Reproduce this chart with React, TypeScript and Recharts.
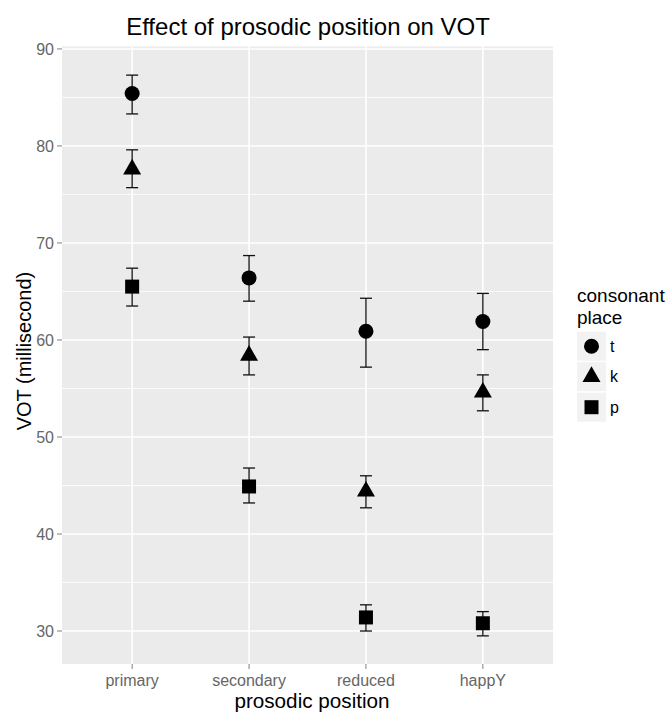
import React from 'react'
import {
  ComposedChart,
  Scatter,
  XAxis,
  YAxis,
  CartesianGrid,
  ErrorBar,
} from 'recharts'

const categories = ['primary', 'secondary', 'reduced', 'happY']

// mean VOT and error-bar limits
const tMean = [85.4, 66.4, 60.9, 61.9]
const tLow = [83.3, 64.0, 57.2, 59.0]
const tHigh = [87.3, 68.7, 64.3, 64.8]

const kMean = [77.6, 58.4, 44.4, 54.6]
const kLow = [75.7, 56.4, 42.7, 52.7]
const kHigh = [79.6, 60.3, 46.0, 56.4]

const pMean = [65.5, 44.9, 31.4, 30.8]
const pLow = [63.5, 43.2, 30.0, 29.5]
const pHigh = [67.4, 46.8, 32.7, 32.0]

const majorTicks = [30, 40, 50, 60, 70, 80, 90]
const minorTicks = [35, 45, 55, 65, 75, 85]

const FONT = '"Liberation Sans", Arial, sans-serif'

const toRows = (mean: number[], low: number[], high: number[]) =>
  mean.map((m, i) => ({ x: i + 1, y: m, err: [m - low[i], high[i] - m] }))

const Circle = (props: any) => <circle cx={props.cx} cy={props.cy} r={7.5} fill="#000" />
const Triangle = (props: any) => {
  const { cx, cy } = props
  const s = 18
  const h = s * 0.866
  return (
    <polygon
      points={`${cx},${cy - (2 * h) / 3} ${cx - s / 2},${cy + h / 3} ${cx + s / 2},${cy + h / 3}`}
      fill="#000"
    />
  )
}
const Square = (props: any) => (
  <rect x={props.cx - 7} y={props.cy - 7} width={14} height={14} fill="#000" />
)

const series = [
  { name: 't', data: toRows(tMean, tLow, tHigh), shape: Circle },
  { name: 'k', data: toRows(kMean, kLow, kHigh), shape: Triangle },
  { name: 'p', data: toRows(pMean, pLow, pHigh), shape: Square },
]

export default function App() {
  return (
    <div style={{ position: 'absolute', left: 0, top: 0, width: 670, height: 713, background: '#fff', fontFamily: FONT }}>
      <ComposedChart
        width={670}
        height={713}
        margin={{ top: 46.5, right: 117, bottom: 0, left: 0 }}
      >
        <CartesianGrid
          fill="#EBEBEB"
          stroke="#fff"
          strokeWidth={0.8}
          horizontalValues={minorTicks}
          vertical={false}
        />
        <CartesianGrid
          stroke="#fff"
          strokeWidth={1.6}
          horizontalValues={majorTicks}
          verticalValues={[1, 2, 3, 4]}
        />
        <XAxis
          type="number"
          dataKey="x"
          domain={[0.4, 4.6]}
          ticks={[1, 2, 3, 4]}
          allowDataOverflow
          tickFormatter={(v: number) => categories[v - 1]}
          axisLine={false}
          tickSize={5}
          tickMargin={5.5}
          tickLine={{ stroke: '#7f7f7f', strokeWidth: 1 }}
          tick={{ fill: '#666', fontSize: 16, fontFamily: FONT }}
          height={49}
        />
        <YAxis
          type="number"
          dataKey="y"
          domain={[26.6, 90.25]}
          ticks={majorTicks}
          allowDataOverflow
          axisLine={false}
          tickSize={5}
          tickMargin={3}
          tickLine={{ stroke: '#7f7f7f', strokeWidth: 1 }}
          tick={{ fill: '#666', fontSize: 16, fontFamily: FONT }}
          width={62}
        />
        {series.map((s) => (
          <Scatter
            key={s.name}
            name={s.name}
            data={s.data}
            shape={s.shape}
            isAnimationActive={false}
          >
            <ErrorBar dataKey="err" direction="y" width={6} stroke="#111" strokeWidth={1.3} />
          </Scatter>
        ))}
      </ComposedChart>
      <svg
        width={670}
        height={713}
        style={{ position: 'absolute', left: 0, top: 0, pointerEvents: 'none', fontFamily: FONT }}
      >
        <text x={308} y={35} textAnchor="middle" fontSize={24} fill="#000">
          Effect of prosodic position on VOT
        </text>
        <text x={312} y={707.5} textAnchor="middle" fontSize={20.7} fill="#000">
          prosodic position
        </text>
        <text
          x={0}
          y={0}
          transform="translate(31,351) rotate(-90)"
          textAnchor="middle"
          fontSize={20}
          fill="#000"
        >
          VOT (millisecond)
        </text>
        <text x={577} y={301.5} fontSize={19} fill="#000">consonant</text>
        <text x={577} y={323.5} fontSize={19} fill="#000">place</text>
        {series.map((s, i) => {
          const top = 331.7 + i * 30.5
          const Shape = s.shape
          return (
            <g key={s.name}>
              <rect x={577} y={top} width={29} height={29} fill="#F2F2F2" />
              <Shape cx={591.5} cy={top + 14.5} />
              <text x={610} y={top + 20} fontSize={16} fill="#000">{s.name}</text>
            </g>
          )
        })}
      </svg>
    </div>
  )
}
